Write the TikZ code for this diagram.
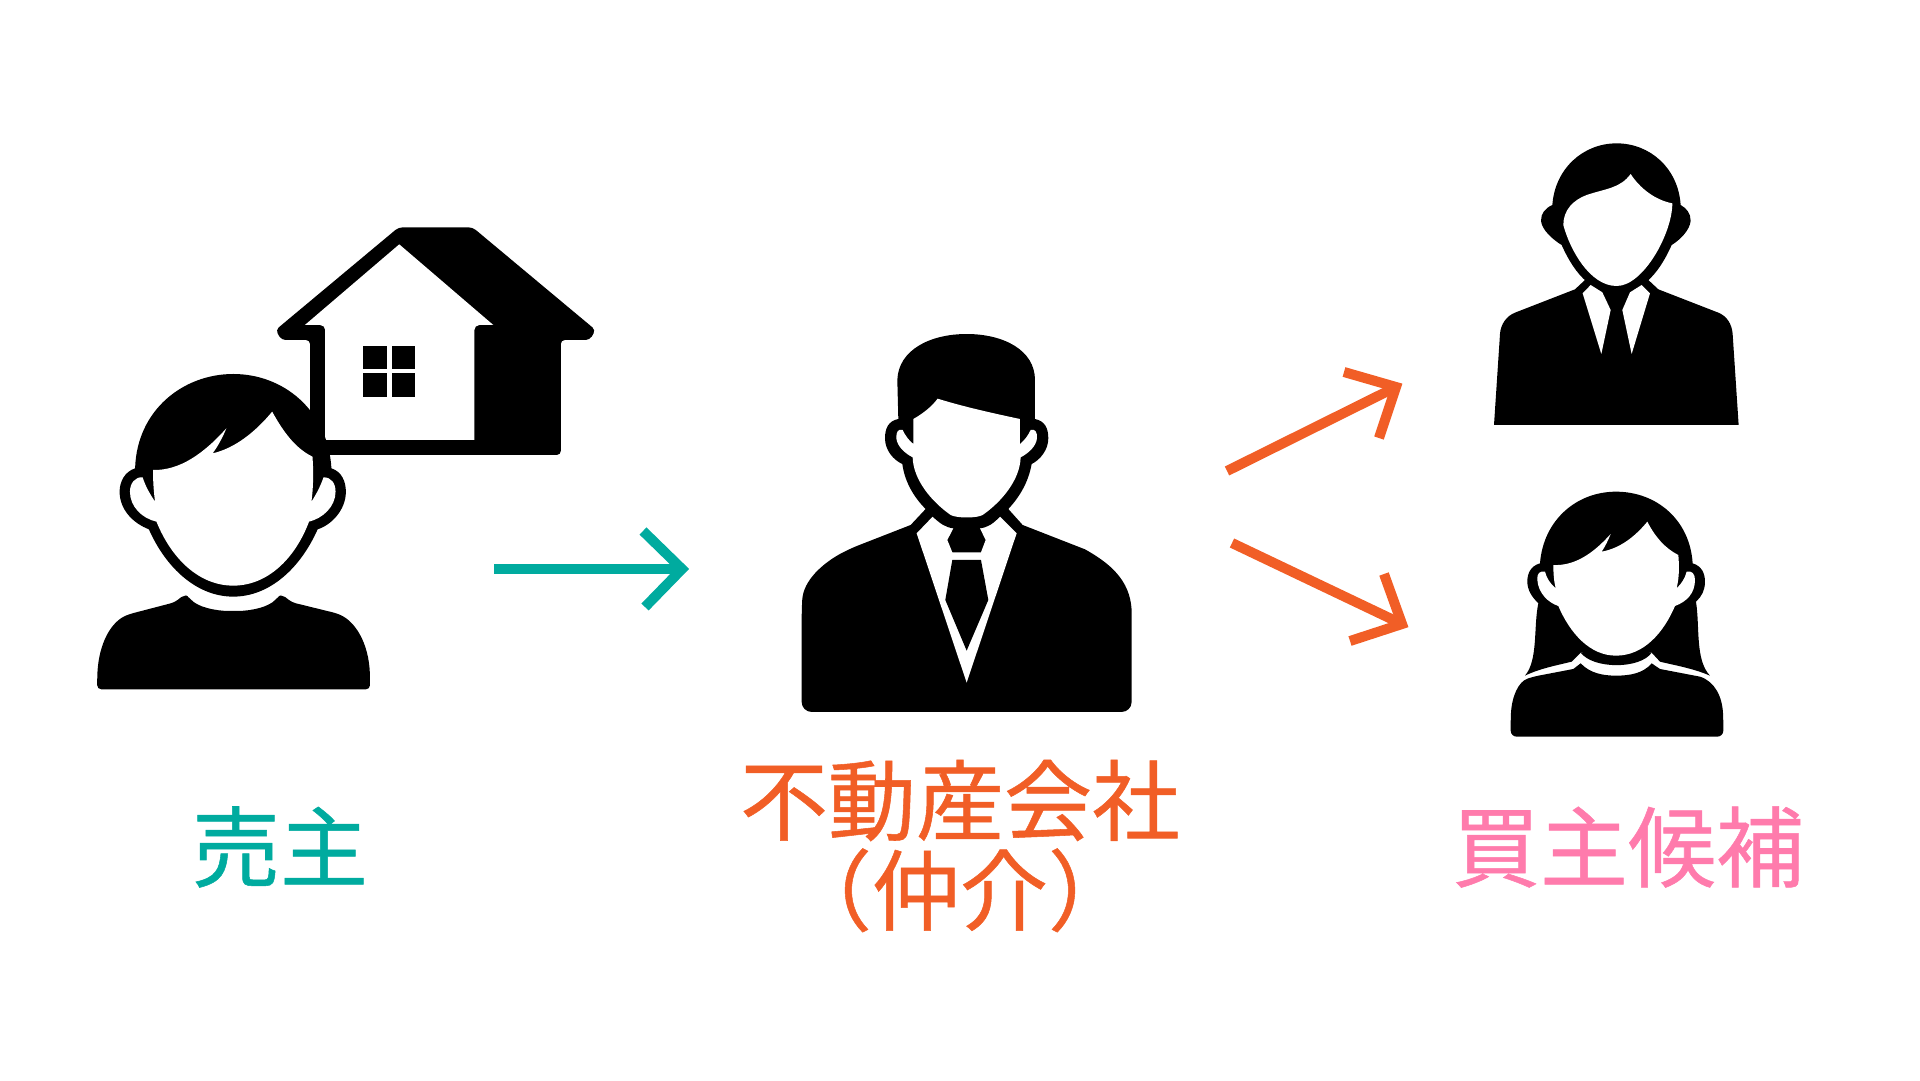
\documentclass[tikz,border=0pt]{standalone}
\usepackage{fontspec}
\usepackage{xcolor}
\newfontfamily\cjk[FakeBold=0.6]{Noto Sans CJK JP}
\definecolor{sellercol}{HTML}{00AB9F}
\definecolor{agentcol}{HTML}{F15E26}
\definecolor{buyercol}{HTML}{FF7BAC}
\tikzset{
  arrowline/.style={line width=10pt, miter limit=10},
  bigtext/.style={inner sep=0pt, align=center, font=\cjk\fontsize{88}{90}\selectfont},
  icon/.style={x=#1pt, y=-0.3333pt}
}

\begin{document}
\begin{tikzpicture}[x=1pt, y=-1pt]
\useasboundingbox (0,0) rectangle (1920,1080);
% house and seller
\begin{scope}[shift={(80,210)}, icon=0.3444]
\fill[black, rounded corners=4pt] (925,52) -- (1140,52) -- (1497,360) -- (1480,390) -- (1396,390) -- (1396,735) -- (668,735) -- (668,390) -- (585,390) -- (568,360) -- cycle;
\fill[white] (927,103) -- (1200,345) -- (1170,345) [rounded corners=5pt] -- (1145,345) -- (1145,375) [sharp corners] -- (1145,690) -- (712,690) -- (712,375) [rounded corners=5pt] -- (712,345) -- (680,345) [sharp corners] -- (653,345) -- cycle;
\foreach \x/\y in {822/408, 906/408, 822/490, 906/490}{
\fill[black] (\x,\y) rectangle ++(68,70);
}
\fill[black, rounded corners=4pt] (50,1438) -- (50,1400) .. controls (55,1300) and (90,1235) .. (145,1212) -- (275,1177) -- (303,1154) -- (315,1160) .. controls (340,1190) and (390,1203) .. (445,1203) .. controls (500,1203) and (550,1190) .. (575,1160) -- (587,1154) -- (615,1177) -- (745,1210) .. controls (800,1235) and (838,1300) .. (842,1400) -- (842,1438) -- cycle;
\fill[black] (160,775) .. controls (165,600) and (300,492) .. (445,492) .. controls (590,492) and (720,600) .. (730,775) .. controls (760,785) and (772,815) .. (772,845) .. controls (772,900) and (730,945) .. (690,958) .. controls (640,1075) and (550,1160) .. (445,1160) .. controls (340,1160) and (250,1075) .. (200,958) .. controls (155,940) and (115,900) .. (115,845) .. controls (115,815) and (130,785) .. (160,775) -- cycle;
\fill[white] (222,935) .. controls (265,1045) and (345,1127) .. (445,1127) .. controls (545,1127) and (625,1045) .. (665,935) .. controls (705,925) and (742,890) .. (742,845) .. controls (742,820) and (730,802) .. (707,802) .. controls (700,825) and (685,855) .. (672,875) .. controls (678,830) and (678,780) .. (675,740) .. controls (625,715) and (590,665) .. (558,605) .. controls (510,665) and (450,715) .. (385,730) .. controls (400,710) and (415,680) .. (425,655) .. controls (360,730) and (290,782) .. (212,780) .. controls (212,815) and (214,845) .. (218,875) .. controls (205,855) and (190,830) .. (182,802) .. controls (160,800) and (145,820) .. (145,845) .. controls (145,890) and (180,925) .. (222,935) -- cycle;
\end{scope}
% agent
\begin{scope}[shift={(780,320)}, icon=0.3333]
\fill[black, rounded corners=10pt] (65,1176) -- (65,870) .. controls (70,780) and (130,730) .. (205,688) [sharp corners] -- (392,615) -- (437,567) -- (685,567) -- (728,615) -- (915,688) .. controls (990,730) and (1050,780) .. (1055,870) [rounded corners=10pt] -- (1055,1176) -- cycle;
\fill[white] (410,640) -- (458,590) -- (520,625) -- (502,660) -- (517,697) -- (603,697) -- (617,660) -- (600,625) -- (660,590) -- (710,640) -- (560,1088) -- cycle;
\fill[black] (517,720) -- (603,720) -- (625,840) -- (560,992) -- (496,840) -- cycle;
\fill[black] (355,297) -- (352,180) .. controls (355,90) and (450,42) .. (560,42) .. controls (670,42) and (765,90) .. (765,180) -- (765,297) .. controls (795,303) and (805,325) .. (805,355) .. controls (805,390) and (780,420) .. (755,432) .. controls (745,490) and (715,535) .. (685,567) -- (660,590) .. controls (640,610) and (625,622) .. (600,625) -- (520,625) .. controls (495,622) and (480,610) .. (458,590) -- (437,567) .. controls (405,535) and (375,490) .. (367,432) .. controls (340,420) and (315,390) .. (315,355) .. controls (315,325) and (325,303) .. (355,297) -- cycle;
\fill[white] (400,297) .. controls (430,280) and (455,260) .. (473,236) .. controls (550,260) and (640,280) .. (720,297) -- (720,372) .. controls (735,360) and (745,345) .. (752,330) .. controls (765,326) and (772,335) .. (771,355) .. controls (768,380) and (745,400) .. (722,412) .. controls (720,480) and (665,545) .. (608,585) .. controls (590,595) and (530,595) .. (512,585) .. controls (455,545) and (400,480) .. (398,412) .. controls (375,400) and (352,380) .. (349,355) .. controls (348,335) and (355,326) .. (368,330) .. controls (375,345) and (385,360) .. (400,372) -- cycle;
\end{scope}
% first buyer
\begin{scope}[shift={(1470,130)}, icon=0.3333]
\fill[black] (72,885) -- (90,612) .. controls (92,582) and (110,558) .. (135,548) -- (315,478) -- (345,450) -- (535,450) -- (565,478) -- (745,548) .. controls (770,558) and (786,582) .. (788,612) -- (806,885) -- cycle;
\foreach \s/\a/\b/\c/\d in {338/362/397/422/394, 540/515/480/457/485}{
\fill[white] (\s,490) -- (\a,465) -- (\b,487) -- (\c,540) -- (\d,672) -- cycle;
}
\fill[black] (247,225) .. controls (255,115) and (340,40) .. (440,40) .. controls (540,40) and (625,115) .. (632,225) .. controls (650,235) and (662,250) .. (662,272) .. controls (660,300) and (630,330) .. (605,345) .. controls (585,390) and (560,430) .. (530,455) -- (350,455) .. controls (320,430) and (295,390) .. (275,345) .. controls (250,330) and (215,300) .. (213,272) .. controls (213,250) and (225,235) .. (247,225) -- cycle;
\fill[white] (482,132) .. controls (510,175) and (555,210) .. (607,220) .. controls (607,310) and (520,468) .. (440,468) .. controls (360,468) and (300,360) .. (280,285) .. controls (280,240) and (310,210) .. (350,195) .. controls (410,175) and (450,175) .. (482,132) -- cycle;
\end{scope}
% second buyer
\begin{scope}[shift={(1490,480)}, icon=0.3333]
\fill[black] (150,250) .. controls (160,120) and (260,35) .. (378,35) .. controls (500,35) and (600,120) .. (608,250) .. controls (635,258) and (645,280) .. (645,305) .. controls (645,330) and (635,350) .. (618,365) .. controls (630,440) and (615,540) .. (660,587) .. controls (610,565) and (550,555) .. (510,545) -- (485,518) -- (272,518) -- (245,545) .. controls (205,555) and (150,565) .. (105,587) .. controls (145,540) and (130,440) .. (145,370) .. controls (125,350) and (112,330) .. (112,305) .. controls (112,280) and (122,258) .. (150,250) -- cycle;
\fill[black] (272,518) .. controls (310,568) and (450,568) .. (485,518) -- (378,500) -- cycle;
\fill[black, rounded corners=6pt] (62,770) -- (62,720) .. controls (65,650) and (85,605) .. (130,590) [sharp corners] -- (250,567) -- (272,550) .. controls (300,580) and (340,587) .. (378,587) .. controls (420,587) and (460,580) .. (485,550) -- (510,567) -- (630,590) [rounded corners=6pt] .. controls (675,605) and (697,650) .. (700,720) -- (700,770) -- cycle;
\fill[white] (205,378) .. controls (240,460) and (300,527) .. (378,527) .. controls (460,527) and (520,460) .. (555,378) .. controls (590,365) and (615,340) .. (615,300) .. controls (615,280) and (605,272) .. (590,275) .. controls (585,295) and (575,310) .. (560,325) .. controls (568,290) and (568,260) .. (565,225) .. controls (525,205) and (495,170) .. (472,125) .. controls (435,170) and (390,205) .. (335,215) .. controls (345,200) and (355,180) .. (362,162) .. controls (310,220) and (255,258) .. (190,255) .. controls (190,280) and (192,305) .. (197,325) .. controls (180,310) and (170,295) .. (165,275) .. controls (150,272) and (140,280) .. (142,300) .. controls (145,340) and (175,368) .. (205,378) -- cycle;
\end{scope}
% arrows
\coordinate (sellertail) at (494,569);
\coordinate (sellertip) at (682,569);
\coordinate (sellerup) at (643,531);
\coordinate (sellerdown) at (645,607);
\coordinate (uptail) at (1227,471);
\coordinate (uptip) at (1396,387);
\coordinate (upleft) at (1344,372);
\coordinate (upright) at (1379,438);
\coordinate (downtail) at (1232,543);
\coordinate (downtip) at (1402,624);
\coordinate (downright) at (1384,574);
\coordinate (downleft) at (1350,641);
\draw[arrowline, sellercol] (sellertail) -- (sellertip);
\draw[arrowline, sellercol] (sellerup) -- (sellertip) -- (sellerdown);
\draw[arrowline, agentcol] (uptail) -- (uptip);
\draw[arrowline, agentcol] (upleft) -- (uptip) -- (upright);
\draw[arrowline, agentcol] (downtail) -- (downtip);
\draw[arrowline, agentcol] (downright) -- (downtip) -- (downleft);
% labels
\node[bigtext, text=sellercol] (seller) at (280,847) {売主};
\node[bigtext, text=agentcol] (agent) at (960,846) {不動産会社\\（仲介）};
\node[bigtext, text=buyercol] (buyer) at (1628,847) {買主候補};
\end{tikzpicture}
\end{document}
